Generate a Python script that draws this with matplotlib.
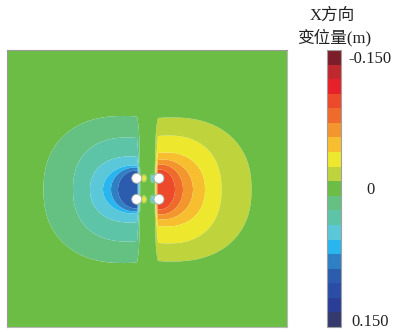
import numpy as np
import matplotlib
matplotlib.use('Agg')
import matplotlib as mpl
import matplotlib.pyplot as plt
from matplotlib.colors import ListedColormap, BoundaryNorm
from matplotlib.patches import Circle

# ---------------- data ----------------
band_colors = [
    '#7b1e2a', '#c0282f', '#e62129', '#ec4a2b', '#ef6b2b', '#f3962d',
    '#f7bf2f', '#ede82e', '#bfd33c', '#6bbd45', '#65c182', '#5ec4a8',
    '#5bc8da', '#29b6ee', '#2e7fc4', '#2b5cad', '#2a4ea6', '#2a3e97',
    '#343a6e',
]
tick_values = [-0.150, 0.0, 0.150]
tick_labels = ['-0.150', '0', '0.150']
title_line1 = 'X方向'
title_line2 = '变位量(m)'

domain_width = 280.0
domain_height = 277.0
center_x = 140.5
center_y = 137.5

# contour lines |u| = (k - 0.5) * step, k = 1..6 (outer to inner)
left_center_offsets = [-24.0, -20.5, -17.5, -14.5, -12.5, -11.5]
left_half_widths = [80, 54, 40, 30, 24, 18]
left_half_heights = [73.5, 52, 33, 24, 22, 19]
right_center_offsets = [24.0, 21.0, 18.5, 15.5, 13.5, 12.5]
right_half_widths = [80, 53, 39, 30, 22, 15]
right_half_heights = [72, 54, 37, 30, 25, 20]
contour_roundness = [2.3, 2.3, 2.2, 2.0, 2.0, 2.0]
inner_peak_level = 6.3

# small spots of opposite sign beside the holes, inside the gap
spot_x = [137.0, 137.0, 146.0, 146.0]
spot_y = [148.7, 127.7, 148.7, 127.7]
spot_level = [-2.3, -2.3, 3.8, 3.8]

hole_x = [129.7, 152.0, 129.7, 152.0]
hole_y = [148.7, 148.7, 127.7, 127.7]
hole_radius = 5.0

# ---------------- field ----------------
n_bands = len(band_colors)
vmax_center = 0.150
step = vmax_center / ((n_bands - 1) / 2)
bounds = step * (np.arange(n_bands + 1) - n_bands / 2)

x = np.linspace(0, domain_width, 841)
y = np.linspace(0, domain_height, 831)
X, Y = np.meshgrid(x, y)
DX = X - center_x
DY = Y - center_y


def level_from_contours(dx, dy, c_list, a_list, b_list, p_list):
    q = np.stack([(np.abs((dx - c) / a) ** p + np.abs(dy / b) ** p) ** (1.0 / p) - 1.0
                  for c, a, b, p in zip(c_list, a_list, b_list, p_list)])
    L = np.zeros_like(dx)
    L = np.where(q[0] > 0, 0.5 * np.exp(-3.0 * q[0]), L)
    with np.errstate(divide='ignore', invalid='ignore'):
        for k in range(len(a_list) - 1):
            m = (q[k] <= 0) & (q[k + 1] > 0)
            frac = -q[k] / (q[k + 1] - q[k])
            L = np.where(m, k + 0.5 + frac, L)
    n = len(a_list)
    L = np.where(q[-1] <= 0,
                 n - 0.5 + np.clip(-q[-1] * 2.0, 0, inner_peak_level - (n - 0.5)),
                 L)
    return L


L_left = level_from_contours(DX, DY, left_center_offsets, left_half_widths,
                             left_half_heights, contour_roundness)
L_right = level_from_contours(DX, DY, right_center_offsets, right_half_widths,
                              right_half_heights, contour_roundness)
gap_dead = 7.0
gap_ramp = 3.5
ramp = np.clip((np.abs(DX) - gap_dead) / gap_ramp, 0, 1)
V = np.where(DX < 0, L_left, -L_right) * step * ramp
for sx, sy, sl in zip(spot_x, spot_y, spot_level):
    V = V + sl * step * np.exp(-((X - sx) / 2.2) ** 2 - ((Y - sy) / 3.2) ** 2)

# ---------------- figure ----------------
W, H = 395, 332
fig = plt.figure(figsize=(W / 100, H / 100), dpi=100)
fig.patch.set_facecolor('white')

ax = fig.add_axes([7 / W, 5 / H, 280 / W, 277 / H])
cmap = ListedColormap(band_colors)
norm = BoundaryNorm(bounds, cmap.N)
ax.contourf(X, Y, V, levels=bounds, cmap=cmap, norm=norm, antialiased=True)
for hx, hy in zip(hole_x, hole_y):
    ax.add_patch(Circle((hx, hy), hole_radius, facecolor='white',
                        edgecolor='#a8a8a8', linewidth=0.6, zorder=3))
ax.set_xlim(0, domain_width)
ax.set_ylim(0, domain_height)
ax.set_xticks([])
ax.set_yticks([])
for name, sp in ax.spines.items():
    sp.set_edgecolor('#9a9a9a' if name in ('top', 'left') else '#b8b8b8')
    sp.set_linewidth(0.8)

cax = fig.add_axes([327 / W, 5 / H, 14 / W, 277 / H])
cb = mpl.colorbar.ColorbarBase(cax, cmap=cmap, norm=norm, boundaries=bounds,
                               ticks=tick_values, drawedges=True,
                               orientation='vertical')
cb.dividers.set_color('black')
cb.dividers.set_linewidth(1.3)
cb.outline.set_edgecolor('#a0a0a0')
cb.outline.set_linewidth(0.8)
cax.invert_yaxis()
cax.minorticks_off()
cb.set_ticklabels(tick_labels)
cax.tick_params(which='both', length=0, pad=21)
for lab in cax.get_yticklabels():
    lab.set_horizontalalignment('center')
    lab.set_fontfamily(['Liberation Serif', 'DejaVu Serif'])
    lab.set_fontsize(12)
    lab.set_color('#222222')

txt_family = ['Liberation Serif', 'Noto Sans CJK SC']
fig.text(332 / W, 1 - 16 / H, title_line1, ha='center', va='center',
         fontsize=12, family=txt_family, color='#222222')
fig.text(334 / W, 1 - 37.5 / H, title_line2, ha='center', va='center',
         fontsize=12, family=txt_family, color='#222222')

fig.savefig('out.png', dpi=100, facecolor='white')
